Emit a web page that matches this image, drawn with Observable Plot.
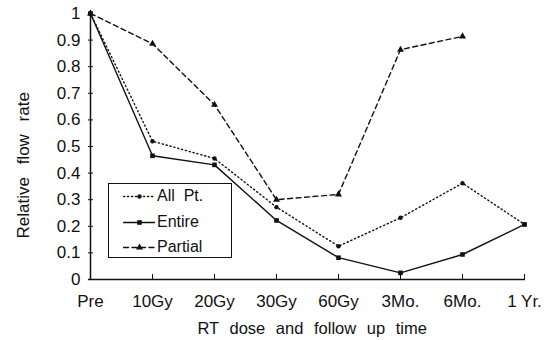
<!DOCTYPE html>
<html><head><meta charset="utf-8">
<script src="https://cdn.jsdelivr.net/npm/d3@7"></script>
<script src="https://cdn.jsdelivr.net/npm/@observablehq/plot@0.6"></script>
<style>
body{margin:0;background:#fff;}
#wrap{position:relative;width:556px;height:340px;font-family:"Liberation Sans",Arial,sans-serif;}
#legend{position:absolute;left:108px;top:183px;width:124px;height:75px;border:1.2px solid #111;box-sizing:border-box;background:#fff;font-size:16px;color:#111;}
#legend .row{position:absolute;left:14px;height:20px;display:flex;align-items:center;}
#legend svg{margin-right:2px;}
</style></head>
<body><div id="wrap"><div id="chart"></div><div id="legend"></div></div>
<script>
const categories = ["Pre","10Gy","20Gy","30Gy","60Gy","3Mo.","6Mo.","1 Yr."];
const allPt   = [1, 0.52, 0.455, 0.272, 0.125, 0.232, 0.362, 0.207];
const entire  = [1, 0.465, 0.431, 0.222, 0.082, 0.025, 0.094, 0.207];
const partial = [1, 0.886, 0.657, 0.30, 0.32, 0.864, 0.914, null];
const yTicks = [0,0.1,0.2,0.3,0.4,0.5,0.6,0.7,0.8,0.9,1];
const seriesNames = ["All  Pt.","Entire","Partial"];
const yLabel = "Relative flow rate";
const xLabel = "RT dose and follow up time";

const styles = {
  "All  Pt.": {dash:"1.2,2.8", symbol:"circle", r:2.2},
  "Entire": {dash:null, symbol:"square", r:2.6},
  "Partial": {dash:"5,3.5", symbol:"triangle", r:2.6}
};
const seriesVals = [allPt, entire, partial];
const data = [];
seriesNames.forEach((s,i)=>categories.forEach((c,j)=>{
  if (seriesVals[i][j] != null) data.push({series:s, cat:c, v:seriesVals[i][j]});
}));

const marks = [
  Plot.ruleY([0], {stroke:"#111", strokeWidth:1.5}),
  Plot.ruleX([categories[0]], {stroke:"#111", strokeWidth:1.5}),
  Plot.axisY({ticks:yTicks, tickSize:0, tickPadding:8, tickFormat:d=>String(d), fontSize:17, label:null}),
  Plot.axisY({ticks:yTicks, tickSize:-5, tickFormat:()=>"" , label:null}),
  Plot.axisX({tickSize:-5, tickPadding:20, fontSize:17, label:null}),
  Plot.text([yLabel], {text:d=>d, frameAnchor:"left", textAnchor:"start", rotate:-90, dx:-65, dy:92, fontSize:17, lineAnchor:"middle"}),
  Plot.text([xLabel], {text:d=>d, frameAnchor:"bottom-left", textAnchor:"start", dx:109, dy:49, fontSize:16.5, lineAnchor:"middle"})
];
seriesNames.forEach(s=>{
  const st = styles[s];
  const d = data.filter(e=>e.series===s);
  marks.push(Plot.line(d, {x:"cat", y:"v", stroke:"#111", strokeWidth:1.4, strokeDasharray:st.dash}));
  marks.push(Plot.dot(d, {x:"cat", y:"v", fill:"#111", stroke:"none", symbol:st.symbol, r:st.r}));
});

const chart = Plot.plot({
  width:556, height:340,
  marginLeft:88, marginRight:31, marginTop:13, marginBottom:61,
  style:{fontFamily:"'Liberation Sans', Arial, sans-serif", fontSize:"16px", color:"#111", background:"#fff"},
  x:{type:"point", domain:categories, padding:0},
  y:{domain:[0,1]},
  marks
});
document.getElementById("chart").appendChild(chart);
d3.select(chart).selectAll("text").each(function(){
  const t = this.textContent;
  if (t === yLabel) this.style.wordSpacing = "8px";
  if (t === xLabel) this.style.wordSpacing = "6px";
});

// legend
const leg = document.getElementById("legend");
seriesNames.forEach((s,i)=>{
  const st = styles[s];
  const row = document.createElement("div");
  row.className="row";
  row.style.top = (2 + i*25.5) + "px";
  const sw = Plot.plot({width:32, height:20, margin:0, x:{domain:[0,1], axis:null}, y:{domain:[0,1], axis:null},
    marks:[
      Plot.line([[0,0.5],[1,0.5]], {stroke:"#111", strokeWidth:1.4, strokeDasharray:st.dash}),
      Plot.dot([[0.5,0.5]], {fill:"#111", stroke:"none", symbol:st.symbol, r:st.r})
    ]});
  row.appendChild(sw);
  const t = document.createElement("span");
  t.textContent = s.replace("  ", "\u00a0\u00a0");
  row.appendChild(t);
  leg.appendChild(row);
});
</script></body></html>
